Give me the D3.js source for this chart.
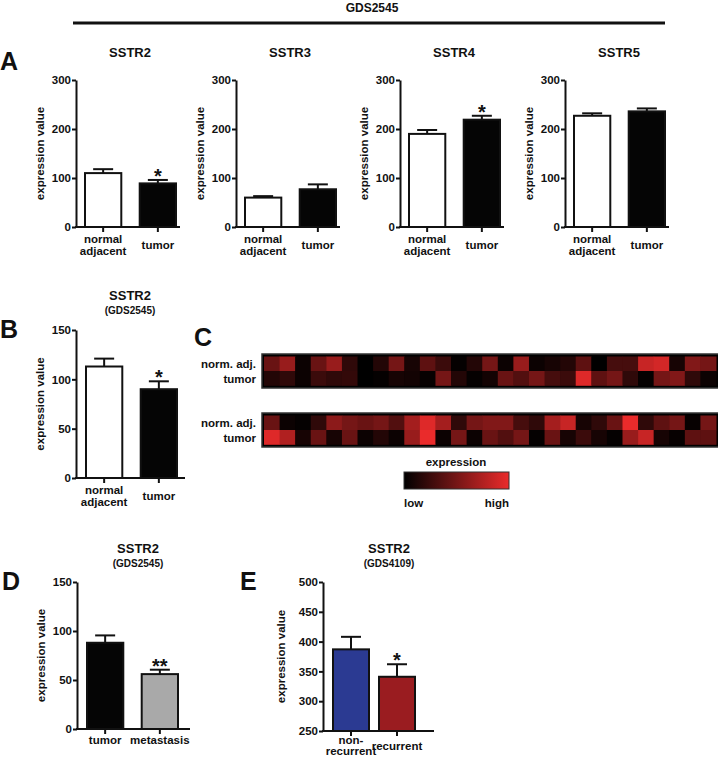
<!DOCTYPE html>
<html>
<head>
<meta charset="utf-8">
<script src="https://cdn.jsdelivr.net/npm/d3@7/dist/d3.min.js"></script>
<style>
  html, body { margin: 0; padding: 0; background: #fff; }
  svg { display: block; }
  text { font-family: 'Liberation Sans', Arial, Helvetica, sans-serif; font-weight: bold; fill: #111; }
</style>
</head>
<body>
<svg id="chart" width="718" height="757"></svg>
<script>
// ---------------- DATA ----------------
const datasetTitle = "GDS2545";
const genesA = ["SSTR2", "SSTR3", "SSTR4", "SSTR5"];
const groupsA = ["normal\nadjacent", "tumor"];
const normalMeanA = [110, 60, 190, 227];
const normalSemA = [8, 3, 8, 5];
const tumorMeanA = [89, 77, 219, 236];
const tumorSemA = [7, 10, 8, 6];
const tumorSigA = ["*", "", "*", ""];
const ticksA = [0, 100, 200, 300];

const groupsB = ["normal\nadjacent", "tumor"];
const meanB = [113, 90];
const semB = [8, 8];
const sigB = ["", "*"];
const ticksB = [0, 50, 100, 150];

const groupsD = ["tumor", "metastasis"];
const meanD = [88, 56];
const semD = [7.5, 4.5];
const sigD = ["", "**"];
const ticksD = [0, 50, 100, 150];

const groupsE = ["non-\nrecurrent", "recurrent"];
const meanE = [387, 341];
const semE = [21, 21];
const sigE = ["", "*"];
const ticksE = [250, 300, 350, 400, 450, 500];

const heatRowLabels = ["norm. adj.", "tumor"];
const heat1Normal = [0.45,0.65,0.05,0.45,0.65,0.2,0.0,0.15,0.5,0.1,0.4,0.25,0.02,0.15,0.5,0.05,0.65,0.05,0.1,0.15,0.4,0.0,0.3,0.3,0.85,0.9,0.1,0.55,0.5];
const heat1Tumor  = [0.15,0.2,0.05,0.25,0.2,0.22,0.0,0.02,0.1,0.08,0.03,0.5,0.15,0.02,0.08,0.45,0.35,0.5,0.3,0.25,0.95,0.4,0.5,0.2,0.02,0.5,0.55,0.2,0.05];
const heat2Normal = [0.45,0.05,0.02,0.2,0.6,0.5,0.45,0.5,0.35,0.7,0.95,0.7,0.2,0.5,0.55,0.55,0.3,0.2,0.7,0.85,0.1,0.2,0.45,1.0,0.2,0.4,0.5,0.03,0.5];
const heat2Tumor  = [0.95,0.75,0.1,0.45,0.1,0.45,0.05,0.15,0.05,0.65,1.0,0.05,0.5,0.05,0.45,0.35,0.5,0.02,0.45,0.1,0.25,0.1,0.02,0.65,0.85,0.1,0.03,0.4,0.4];
const legendTitle = "expression";
const legendLow = "low", legendHigh = "high";

// ---------------- DRAWING ----------------
const svg = d3.select("#chart");
const heatColor = d3.scaleLinear().domain([0, 1]).range(["#000000", "#ea2b2b"]).interpolate(d3.interpolateRgb);

// header
svg.append("text").attr("x", 372).attr("y", 12).attr("text-anchor", "middle").attr("font-size", 12).text(datasetTitle);
svg.append("line").attr("x1", 73).attr("x2", 665).attr("y1", 23).attr("y2", 23).attr("stroke", "#111").attr("stroke-width", 3);

function letter(t, x, y) {
  svg.append("text").attr("x", x).attr("y", y).attr("font-size", 25).text(t);
}
letter("A", 0, 70); letter("B", 0, 338); letter("C", 194, 346); letter("D", 2, 590); letter("E", 240, 590);

function barPanel(c) {
  const g = svg.append("g");
  const y = d3.scaleLinear().domain(c.domain).range([c.yBot, c.yTop]);
  const x = d3.scaleBand().domain(c.cats).range([c.x0 + c.barStart, c.x0 + c.barEnd]).paddingInner(c.pad).paddingOuter(0);
  const bw = x.bandwidth();
  // bars
  g.selectAll("rect.bar").data(c.cats).join("rect")
    .attr("x", d => x(d) + 1).attr("width", bw - 2)
    .attr("y", (d, i) => y(c.means[i]))
    .attr("height", (d, i) => c.yBot - y(c.means[i]))
    .attr("fill", (d, i) => c.fills[i]).attr("stroke", "#111").attr("stroke-width", 2);
  // error bars (upper only)
  c.cats.forEach((d, i) => {
    const cx = x(d) + bw / 2;
    const top = y(c.means[i] + c.sems[i]);
    g.append("line").attr("x1", cx).attr("x2", cx).attr("y1", y(c.means[i])).attr("y2", top).attr("stroke", "#111").attr("stroke-width", 2);
    g.append("line").attr("x1", cx - 10).attr("x2", cx + 10).attr("y1", top).attr("y2", top).attr("stroke", "#111").attr("stroke-width", 2);
    if (c.sigs[i]) {
      g.append("text").attr("x", cx).attr("y", top + 3).attr("text-anchor", "middle").attr("font-size", 20).text(c.sigs[i]);
    }
  });
  // y axis
  const ya = g.append("g").attr("transform", `translate(${c.x0},0)`)
    .call(d3.axisLeft(y).tickValues(c.ticks).tickSize(4).tickSizeOuter(0).tickPadding(1).tickFormat(d3.format("d")));
  ya.select(".domain").attr("stroke", "#111").attr("stroke-width", 2);
  ya.selectAll(".tick line").attr("stroke", "#111").attr("stroke-width", 2);
  ya.selectAll(".tick text").attr("font-size", 11.5).attr("font-family", null).attr("fill", "#111");
  // x axis
  g.append("line").attr("x1", c.x0 - 1).attr("x2", c.x0 + c.axisEnd).attr("y1", c.yBot).attr("y2", c.yBot).attr("stroke", "#111").attr("stroke-width", 2);
  const maxLines = d3.max(c.cats, d => d.split("\n").length);
  const labOff = c.labOff || 16, lineH = c.lineH || 12;
  c.cats.forEach(d => {
    const cx = x(d) + bw / 2;
    g.append("line").attr("x1", cx).attr("x2", cx).attr("y1", c.yBot).attr("y2", c.yBot + 5).attr("stroke", "#111").attr("stroke-width", 2);
    const lines = d.split("\n");
    const t = g.append("text").attr("text-anchor", "middle").attr("font-size", 11.5);
    lines.forEach((ln, k) => {
      t.append("tspan").attr("x", cx).attr("y", c.yBot + labOff + (k + (maxLines - lines.length) / 2) * lineH).text(ln);
    });
  });
  // y label
  g.append("text").attr("transform", `translate(${c.x0 - c.ylabOff},${(c.yTop + c.yBot) / 2}) rotate(-90)`)
    .attr("text-anchor", "middle").attr("dominant-baseline", "central").attr("font-size", 11.5).text("expression value");
  // titles
  g.append("text").attr("x", c.titleX).attr("y", c.titleY).attr("text-anchor", "middle").attr("font-size", 13).text(c.title);
  if (c.subtitle) g.append("text").attr("x", c.titleX).attr("y", c.titleY + 13.5).attr("text-anchor", "middle").attr("font-size", 10).text(c.subtitle);
}

// Panel A
const axisXA = [76, 236, 400, 565];
genesA.forEach((gene, i) => {
  barPanel({
    x0: axisXA[i], yTop: 80, yBot: 227, axisEnd: 104, barStart: 8, barEnd: 101, pad: 0.3,
    domain: [0, 300], ticks: ticksA, cats: groupsA,
    means: [normalMeanA[i], tumorMeanA[i]], sems: [normalSemA[i], tumorSemA[i]], sigs: ["", tumorSigA[i]],
    fills: ["#ffffff", "#050505"], title: gene, titleX: axisXA[i] + 54, titleY: 57, ylabOff: 36
  });
});

// Panel B
barPanel({
  x0: 76, yTop: 330, yBot: 478, axisEnd: 109, barStart: 9, barEnd: 102, pad: 0.3,
  domain: [0, 150], ticks: ticksB, cats: groupsB, means: meanB, sems: semB, sigs: sigB,
  fills: ["#ffffff", "#050505"], title: "SSTR2", subtitle: "(GDS2545)", titleX: 130, titleY: 300, ylabOff: 36
});

// Panel D
barPanel({
  x0: 77, yTop: 582, yBot: 729, axisEnd: 113, barStart: 9, barEnd: 102, pad: 0.3,
  domain: [0, 150], ticks: ticksD, cats: groupsD, means: meanD, sems: semD, sigs: sigD,
  fills: ["#050505", "#a9a9a9"], title: "SSTR2", subtitle: "(GDS2545)", titleX: 138, titleY: 553, ylabOff: 36,
  labOff: 15
});

// Panel E
barPanel({
  x0: 323, yTop: 582, yBot: 731, axisEnd: 111, barStart: 9, barEnd: 93, pad: 0.174,
  domain: [250, 500], ticks: ticksE, cats: groupsE, means: meanE, sems: semE, sigs: sigE,
  fills: ["#2b3a92", "#9a1c20"], title: "SSTR2", subtitle: "(GDS4109)", titleX: 389, titleY: 553, ylabOff: 42,
  labOff: 13, lineH: 11
});

// Panel C heatmaps
function heatBlock(rows, yTop) {
  const ncol = rows[0].length;
  const x = d3.scaleBand().domain(d3.range(ncol)).range([264, 716]);
  const y = d3.scaleBand().domain(d3.range(rows.length)).range([yTop + 2.5, yTop + 31.5]);
  svg.append("rect").attr("x", 262).attr("y", yTop).attr("width", 462).attr("height", 34)
    .attr("fill", "#000").attr("stroke", "#333").attr("stroke-width", 1.5);
  rows.forEach((r, ri) => {
    svg.append("g").selectAll("rect").data(r).join("rect")
      .attr("x", (d, i) => x(i)).attr("y", y(ri)).attr("width", x.bandwidth() + 0.5).attr("height", y.bandwidth() + 0.3)
      .attr("fill", d => heatColor(d));
    svg.append("text").attr("x", 256).attr("y", y(ri) + y.bandwidth() / 2 + 4.5).attr("text-anchor", "end")
      .attr("font-size", 11.5).text(heatRowLabels[ri]);
  });
}
heatBlock([heat1Normal, heat1Tumor], 354);
heatBlock([heat2Normal, heat2Tumor], 413);

// legend
const defs = svg.append("defs");
const grad = defs.append("linearGradient").attr("id", "hg");
d3.range(0, 1.01, 0.25).forEach(t => grad.append("stop").attr("offset", t).attr("stop-color", heatColor(t)));
svg.append("rect").attr("x", 404).attr("y", 472).attr("width", 105).attr("height", 17).attr("fill", "url(#hg)").attr("stroke", "#333").attr("stroke-width", 1);
svg.append("text").attr("x", 456).attr("y", 466).attr("text-anchor", "middle").attr("font-size", 11.5).text(legendTitle);
svg.append("text").attr("x", 404).attr("y", 507).attr("font-size", 11.5).text(legendLow);
svg.append("text").attr("x", 509).attr("y", 507).attr("text-anchor", "end").attr("font-size", 11.5).text(legendHigh);
</script>
</body>
</html>
